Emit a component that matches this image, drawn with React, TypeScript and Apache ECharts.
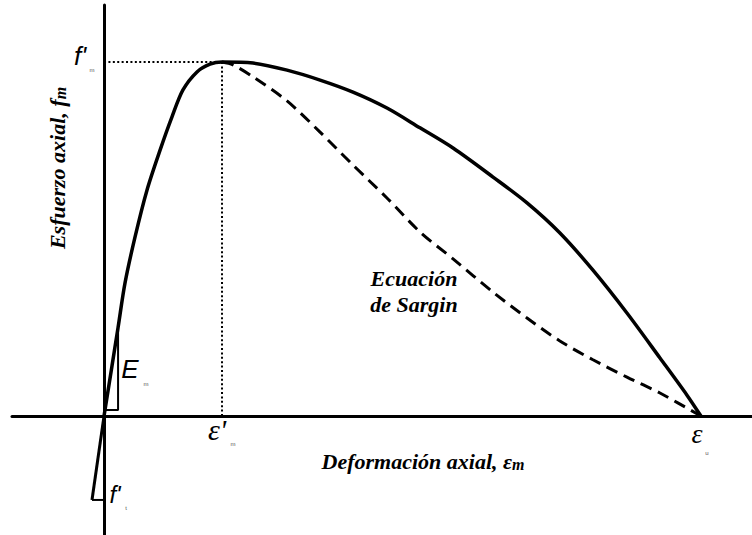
import React, { useEffect, useRef } from "react";
import * as echarts from "echarts";

// Normalised strain (x, ε/ε'm) and stress (y, f/f'm)
const ascending: number[][] = [
  [0, 0], [0.119, 0.25], [0.178, 0.376], [0.263, 0.506], [0.364, 0.638],
  [0.475, 0.751], [0.576, 0.845], [0.669, 0.921], [0.788, 0.972], [0.898, 0.994], [1, 1],
];
const descending: number[][] = [
  [1.263, 0.997], [1.551, 0.977], [1.831, 0.949], [2.11, 0.915], [2.398, 0.87],
  [2.678, 0.814], [2.958, 0.757], [3.297, 0.675], [3.585, 0.602], [3.864, 0.517],
  [4.144, 0.412], [4.432, 0.291], [4.712, 0.164], [4.941, 0.059], [5.059, 0],
];
const sargin: number[][] = [
  [1, 1], [1.093, 0.992], [1.263, 0.958], [1.551, 0.89], [1.831, 0.802], [2.11, 0.709],
  [2.398, 0.616], [2.678, 0.52], [2.958, 0.444], [3.297, 0.35], [3.585, 0.277],
  [3.864, 0.212], [4.144, 0.159], [4.432, 0.11], [4.712, 0.065], [5.059, 0],
];
const tensionLine: number[][] = [[0, 0], [-0.102, -0.237]];
const tensionBase: number[][] = [[-0.102, -0.237], [0, -0.237]];
const modulusTriangle: number[][] = [[0.01, 0.017], [0.119, 0.017], [0.119, 0.25]];
const peakH: number[][] = [[0, 1], [1, 1]];
const peakV: number[][] = [[1, 1], [1, 0]];

const xRange = [-0.78, 5.492];
const yRange = [-0.336, 1.161];

export default function App() {
  const ref = useRef<HTMLDivElement>(null);
  useEffect(() => {
    if (!ref.current) return;
    const chart = echarts.init(ref.current, null, { renderer: "svg" });
    const line = (data: number[][], width: number, type: any = "solid", smooth: any = false) => ({
      type: "line",
      data,
      showSymbol: false,
      smooth,
      lineStyle: { color: "#000", width, type },
      silent: true,
    });
    const sans = "Liberation Sans";
    const serif = "Liberation Serif";
    const txt = (
      text: string, x: number, y: number, fontFamily: string, fontSize: number,
      fontStyle = "normal", fontWeight: any = "normal", fill = "#000"
    ) => ({
      type: "text",
      x,
      y,
      style: { text, fontFamily, fontSize, fontStyle, fontWeight, fill, align: "center", verticalAlign: "middle" },
    });
    const richTitle = (text: string, sub: string, x: number, y: number, rotation = 0) => ({
      type: "text",
      x,
      y,
      rotation,
      style: {
        text: `{a|${text}}{b|${sub}}`,
        align: "center",
        verticalAlign: "middle",
        rich: {
          a: { fontFamily: serif, fontSize: 22, fontStyle: "italic", fontWeight: "bold", fill: "#000" },
          b: { fontFamily: serif, fontSize: 16, fontStyle: "italic", fontWeight: "bold", fill: "#000", padding: [7, 0, 0, 0] },
        },
      },
    });
    chart.setOption({
      animation: false,
      backgroundColor: "#fff",
      grid: { left: 12, right: 0, top: 5, bottom: 0 },
      xAxis: {
        type: "value",
        min: xRange[0],
        max: xRange[1],
        axisLine: { show: true, onZero: true, lineStyle: { color: "#000", width: 3 } },
        axisTick: { show: false },
        axisLabel: { show: false },
        splitLine: { show: false },
      },
      yAxis: {
        type: "value",
        min: yRange[0],
        max: yRange[1],
        axisLine: { show: true, onZero: true, lineStyle: { color: "#000", width: 3 } },
        axisTick: { show: false },
        axisLabel: { show: false },
        splitLine: { show: false },
      },
      series: [
        line(peakH, 2, [2, 2.4]),
        line(peakV, 2, [2, 2.4]),
        line([...ascending, ...descending], 3.5, "solid", 0.3),
        line(sargin, 3, [12, 7], 0.3),
        line(tensionLine, 3),
        line(tensionBase, 2),
        line(modulusTriangle, 2),
      ],
      graphic: [
        txt("f'", 80, 56, sans, 26, "italic"),
        txt("m", 92, 70, sans, 6, "normal", "normal", "#555"),
        txt("E", 130, 369, sans, 26, "italic"),
        txt("m", 146, 384, sans, 6, "normal", "normal", "#555"),
        txt("f'", 115, 494, sans, 24, "italic"),
        txt("t", 126, 508, sans, 6, "normal", "normal", "#555"),
        txt("ε'", 217, 429, serif, 30, "italic"),
        txt("m", 233, 444, sans, 6, "normal", "normal", "#555"),
        txt("ε", 697, 433, serif, 28, "italic"),
        txt("u", 707, 453, sans, 6, "normal", "normal", "#555"),
        txt("Ecuación", 414, 278, serif, 22, "italic", "bold"),
        txt("de Sargin", 414, 304, serif, 22, "italic", "bold"),
        richTitle("Deformación axial, ε", "m", 423, 461),
        richTitle("Esfuerzo axial, f", "m", 57, 168, Math.PI / 2),
      ],
    });
    return () => chart.dispose();
  }, []);
  return (
    <div
      ref={ref}
      style={{ position: "absolute", left: 0, top: 0, width: 752, height: 535 }}
    />
  );
}
